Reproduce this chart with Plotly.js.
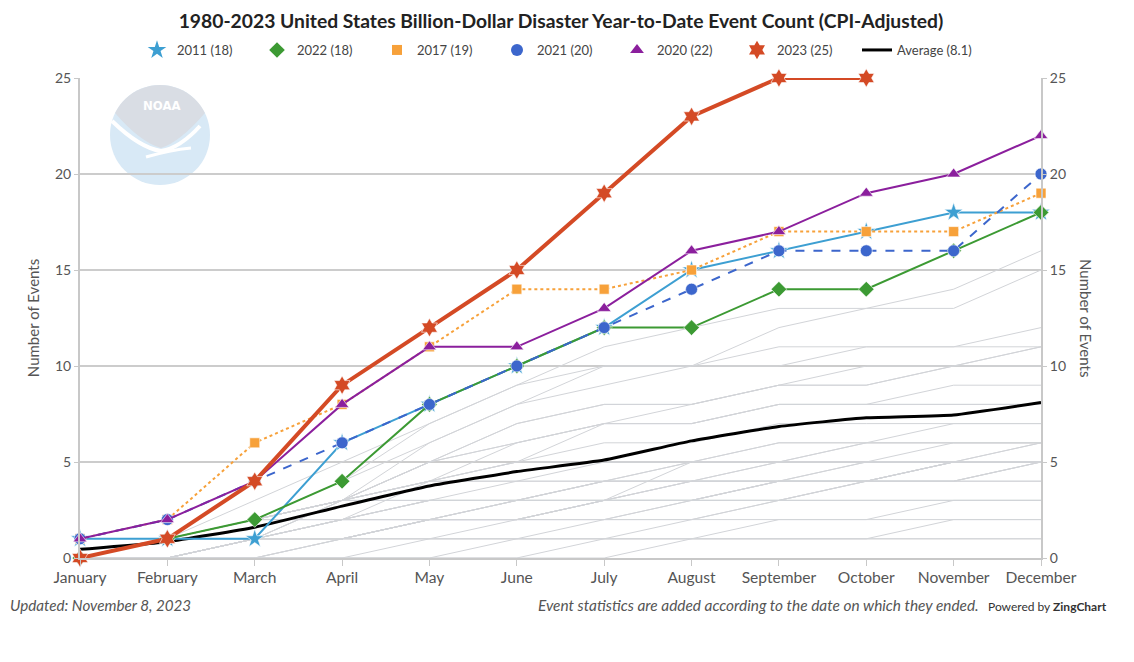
<!DOCTYPE html>
<html>
<head>
<meta charset="utf-8">
<script src="https://cdn.plot.ly/plotly-3.0.1.min.js"></script>
<style>
html,body{margin:0;padding:0;background:#fff;}
#chart{width:1134px;height:662px;}
</style>
</head>
<body>
<div id="chart"></div>
<script>
// ---- Data ----
var months = ['January','February','March','April','May','June','July','August','September','October','November','December'];

var y2011 = [1,1,1,6,8,10,12,15,16,17,18,18];
var y2022 = [0,1,2,4,8,10,12,12,14,14,16,18];
var y2017 = [1,2,6,8,11,14,14,15,17,17,17,19];
var y2021 = [1,2,4,6,8,10,12,14,16,16,16,20];
var y2020 = [1,2,4,8,11,11,13,16,17,19,20,22];
var y2023 = [0,1,4,9,12,15,19,23,25,25,null,null];
var avg   = [0.45,0.85,1.6,2.7,3.75,4.5,5.1,6.1,6.85,7.3,7.45,8.1];

var legendNames = ['2011 (18)','2022 (18)','2017 (19)','2021 (20)','2020 (22)','2023 (25)','Average (8.1)'];

// other years (grey background lines)
var y1980 = [0,0,0,0,0,1,1,2,2,2,3,3];
var y1981 = [0,0,1,1,1,1,1,1,2,2,2,2];
var y1982 = [0,1,1,2,2,2,2,2,3,3,3,3];
var y1983 = [0,1,2,2,3,3,3,4,4,4,5,5];
var y1984 = [0,0,0,1,1,1,1,1,1,1,2,2];
var y1985 = [0,1,1,1,2,2,2,3,4,5,6,6];
var y1986 = [0,0,1,1,2,2,3,3,3,3,3,3];
var y1987 = [0,0,0,0,0,0,1,1,1,1,1,1];
var y1988 = [0,0,0,0,0,0,0,1,1,1,1,1];
var y1989 = [0,0,1,1,2,2,2,2,3,4,4,5];
var y1990 = [0,1,2,3,3,3,3,3,4,4,4,4];
var y1991 = [0,0,1,1,1,1,2,3,3,4,4,4];
var y1992 = [0,0,0,1,2,3,3,4,5,5,5,6];
var y1993 = [0,1,2,2,2,3,4,4,4,4,5,5];
var y1994 = [0,1,1,2,3,3,4,4,4,4,5,5];
var y1995 = [0,1,1,2,2,3,3,3,4,4,5,5];
var y1996 = [0,1,1,1,2,2,3,3,4,4,4,5];
var y1997 = [0,1,2,3,4,4,4,4,4,4,5,5];
var y1998 = [0,1,2,3,5,6,7,7,8,8,9,9];
var y1999 = [0,1,2,2,3,3,4,5,5,6,6,6];
var y2000 = [0,0,0,0,1,2,3,3,3,4,4,5];
var y2001 = [0,0,0,1,2,2,3,3,3,3,3,3];
var y2002 = [0,0,1,2,3,4,4,5,5,5,5,6];
var y2003 = [0,0,1,2,4,5,5,5,6,6,7,7];
var y2004 = [0,0,1,1,2,3,3,5,6,6,6,6];
var y2005 = [0,0,1,2,2,2,3,4,5,6,6,6];
var y2006 = [0,0,1,3,4,5,6,6,7,7,7,7];
var y2007 = [0,1,2,3,3,3,4,4,4,5,5,5];
var y2008 = [0,1,2,3,4,6,7,8,9,9,10,11];
var y2009 = [0,1,2,3,5,6,7,7,8,8,8,8];
var y2010 = [0,1,2,3,4,4,5,5,5,5,5,5];
var y2012 = [0,1,2,4,6,8,10,10,11,11,11,11];
var y2013 = [0,0,1,3,5,7,8,8,9,9,10,10];
var y2014 = [0,1,2,3,4,5,7,7,8,8,8,8];
var y2015 = [0,1,2,3,5,7,8,8,9,10,10,11];
var y2016 = [0,1,3,5,7,9,10,10,12,13,13,15];
var y2018 = [0,1,2,4,7,9,11,12,13,13,14,16];
var y2019 = [0,0,1,3,6,8,9,10,10,11,11,12];

var greyYears = [y1980,y1981,y1982,y1983,y1984,y1985,y1986,y1987,y1988,y1989,y1990,y1991,y1992,y1993,y1994,y1995,y1996,y1997,y1998,y1999,y2000,y2001,y2002,y2003,y2004,y2005,y2006,y2007,y2008,y2009,y2010,y2012,y2013,y2014,y2015,y2016,y2018,y2019];

// ---- Styles ----
var FONT = 'Lato, "Source Sans Pro", "Liberation Sans", sans-serif';
var series = [
  {y:y2011, name:legendNames[0], color:'#3d9fd2', symbol:'star',         dash:'solid', width:2,   size:14},
  {y:y2022, name:legendNames[1], color:'#3c9a33', symbol:'diamond',      dash:'solid', width:2,   size:12},
  {y:y2017, name:legendNames[2], color:'#f7a13a', symbol:'square',       dash:'dot',   width:2,   size:10},
  {y:y2021, name:legendNames[3], color:'#3c66cc', symbol:'circle',       dash:'dash',  width:2,   size:12},
  {y:y2020, name:legendNames[4], color:'#8b1f9d', symbol:'triangle-up',  dash:'solid', width:2,   size:12},
  {y:y2023, name:legendNames[5], color:'#d44a25', symbol:'hexagram',     dash:'solid', width:4,   size:14}
];

var traces = [];
greyYears.forEach(function(g){
  traces.push({x:months, y:g, type:'scatter', mode:'lines', yaxis:'y',
    line:{color:'#d2d4d8', width:1}, hoverinfo:'skip', showlegend:false});
});
traces.push({x:months, y:avg, type:'scatter', mode:'lines', yaxis:'y', name:legendNames[6],
  line:{color:'#000', width:3, shape:'spline', smoothing:0.4}, showlegend:false, legendgroup:'avg'});

series.forEach(function(s){
  traces.push({x:months, y:s.y, type:'scatter', mode:'lines+markers', yaxis:'y2', name:s.name,
    line:{color:s.color, width:s.width, dash:s.dash},
    marker:{symbol:s.symbol, size:s.size, color:s.color, line:{color:'rgba(255,255,255,0.6)', width:1}},
    cliponaxis:false, showlegend:false, legendgroup:s.name});
});
// legend-only entries (marker only, as in reference)
series.forEach(function(s){
  traces.push({x:[null], y:[null], type:'scatter', mode:'markers', yaxis:'y2', name:s.name,
    marker:{symbol:s.symbol, size:s.size, color:s.color}, legendgroup:s.name, showlegend:true});
});
traces.push({x:[null], y:[null], type:'scatter', mode:'lines', yaxis:'y2', name:legendNames[6],
  line:{color:'#000', width:3}, legendgroup:'avg', showlegend:true});

// ---- Layout ----
var L = 80, R = 1041, T = 78, B = 558;
function px(x){ return (x - L) / (R - L); }
function py(y){ return (B - y) / (B - T); }
function P(x, y){ return px(x) + ' ' + py(y); }

// NOAA logo geometry (pixel space)
var cx = 160, cy = 135, rr = 50;
var arc = [];
var a0 = Math.PI + Math.asin(22/50), a1 = 2*Math.PI - Math.asin(22/50);
for (var i = 0; i <= 24; i++) {
  var a = a0 + (a1 - a0) * i / 24;
  arc.push(P(cx + rr*Math.cos(a), cy + rr*Math.sin(a)));
}
var greyPath = 'M ' + arc[0] + ' L ' + arc.slice(1).join(' L ') +
  ' Q ' + P(180,142) + ' ' + P(161,148) + ' Q ' + P(140,142) + ' ' + arc[0] + ' Z';

var shapes = [
  {type:'circle', xref:'paper', yref:'paper', x0:px(cx-rr), x1:px(cx+rr), y0:py(cy+rr), y1:py(cy-rr),
   fillcolor:'#d8e9f6', line:{width:0}, layer:'below'},
  {type:'path', xref:'paper', yref:'paper', layer:'below', line:{width:0}, fillcolor:'#d9dde4', path:greyPath},
  {type:'path', xref:'paper', yref:'paper', layer:'below', line:{color:'#ffffff', width:4},
   path:'M ' + P(112,121) + ' Q ' + P(140,148) + ' ' + P(161,151) + ' Q ' + P(180,148) + ' ' + P(200,126)},
  {type:'path', xref:'paper', yref:'paper', layer:'below', line:{color:'#ffffff', width:3},
   path:'M ' + P(146,157) + ' Q ' + P(170,150) + ' ' + P(191,148)}
];

var annotations = [
  {xref:'paper', yref:'paper', x:px(161), y:py(105), xanchor:'center', yanchor:'middle', text:'<b>NOAA</b>', showarrow:false,
   font:{family:'"DejaVu Sans Condensed", "DejaVu Sans", sans-serif', size:13, color:'#ffffff'}},
  {xref:'paper', yref:'paper', x:px(1086), y:py(318), xanchor:'center', yanchor:'middle', text:'Number of Events', showarrow:false, textangle:90,
   font:{family:FONT, size:15, color:'#555'}},
  {xref:'paper', yref:'paper', x:px(8), y:py(605), xanchor:'left', yanchor:'middle', text:'<i>Updated: November 8, 2023</i>', showarrow:false,
   font:{family:FONT, size:15.2, color:'#555'}},
  {xref:'paper', yref:'paper', x:px(981), y:py(605), xanchor:'right', yanchor:'middle', text:'<i>Event statistics are added according to the date on which they ended.</i>', showarrow:false,
   font:{family:FONT, size:15.4, color:'#555'}},
  {xref:'paper', yref:'paper', x:px(1109), y:py(606), xanchor:'right', yanchor:'middle', text:'Powered by <b>ZingChart</b>', showarrow:false,
   font:{family:FONT, size:12, color:'#333'}}
];

var layout = {
  width:1134, height:662,
  margin:{l:L, r:1134-R, t:T, b:662-B, pad:0},
  paper_bgcolor:'#fff', plot_bgcolor:'#fff',
  font:{family:FONT, color:'#555'},
  title:{text:'<b>1980-2023 United States Billion-Dollar Disaster Year-to-Date Event Count (CPI-Adjusted)</b>',
    x:px(561), xref:'paper', xanchor:'center', y:1 - 21/662, yanchor:'middle', font:{family:FONT, size:19.3, color:'#222'}},
  showlegend:true,
  legend:{orientation:'h', x:px(557), xanchor:'center', y:py(50), yanchor:'middle',
    font:{family:FONT, size:13, color:'#444'}, entrywidth:75, itemwidth:30, traceorder:'normal',
    bgcolor:'rgba(0,0,0,0)'},
  xaxis:{type:'category', range:[0,11], showgrid:false, zeroline:false,
    showline:true, linecolor:'#c8c8c8', linewidth:2, ticks:'outside', ticklen:6, tickcolor:'#c8c8c8',
    ticklabelstandoff:-2,
    tickfont:{family:FONT, size:15.6, color:'#555'}, fixedrange:true},
  yaxis:{range:[0,25], tickvals:[0,5,10,15,20,25], showgrid:true, gridcolor:'#cccccc', gridwidth:1.5,
    zeroline:false, showline:true, linecolor:'#c8c8c8', linewidth:2, ticks:'outside', ticklen:4, tickcolor:'#c8c8c8',
    tickfont:{family:FONT, size:14, color:'#555'},
    title:{text:'Number of Events', font:{family:FONT, size:15, color:'#555'}, standoff:12}},
  yaxis2:{range:[0,25], overlaying:'y', side:'right', tickvals:[0,5,10,15,20,25], showgrid:false,
    zeroline:false, showline:true, linecolor:'#c8c8c8', linewidth:2, ticks:'outside', ticklen:4, tickcolor:'#c8c8c8',
    tickfont:{family:FONT, size:14, color:'#555'}},
  shapes:shapes,
  annotations:annotations
};

Plotly.newPlot('chart', traces, layout, {displayModeBar:false, staticPlot:true});
</script>
</body>
</html>
